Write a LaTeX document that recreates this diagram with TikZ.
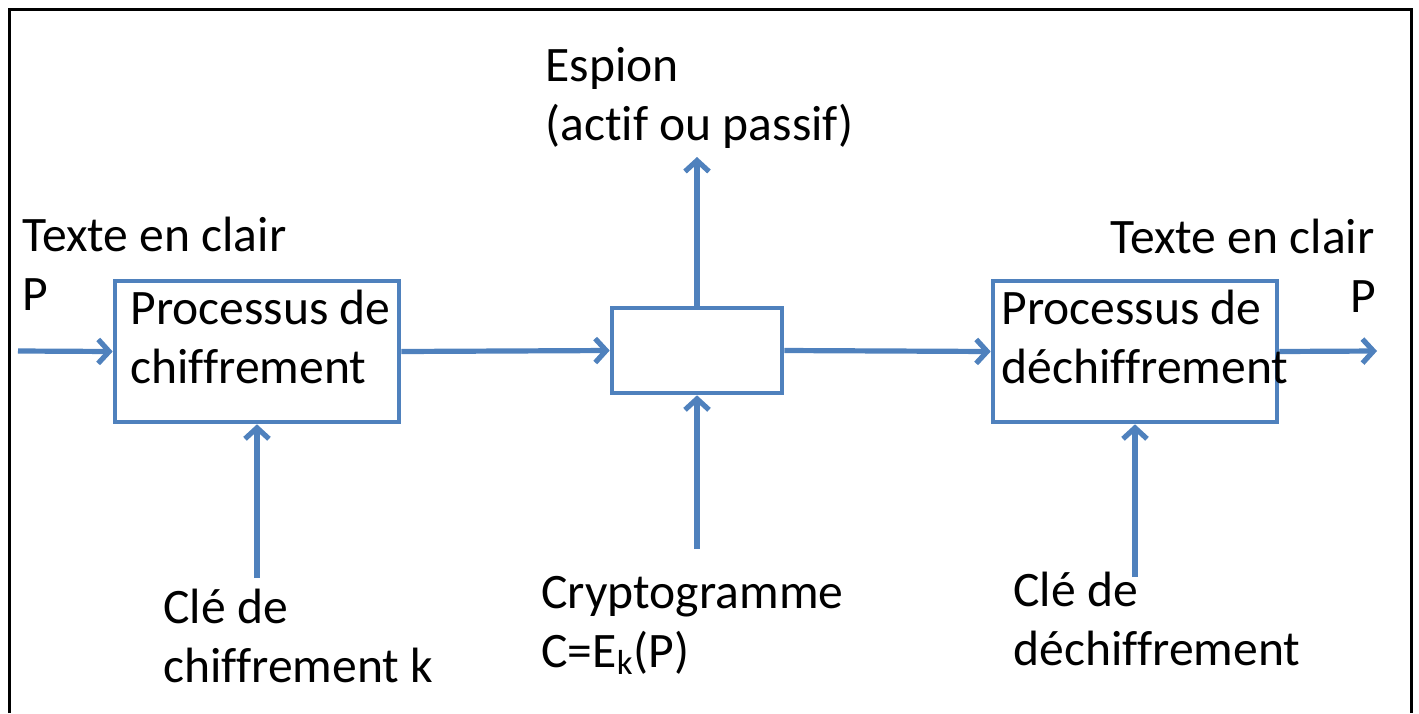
\documentclass[tikz,border=0pt]{standalone}
\usepackage{fontspec}
\setmainfont{Carlito}[Ligatures=CommonOff]
\usetikzlibrary{arrows.meta}
\definecolor{ofblue}{HTML}{4F81BD}
\begin{document}
\begin{tikzpicture}[x=0.5pt,y=-0.5pt,
  blk/.style={draw=ofblue, line width=2.3pt, inner sep=0pt},
  flow/.style={draw=ofblue, line width=2.6pt, -{Straight Barb[length=5.5pt,width=12pt]}},
  lbl/.style={inner sep=0pt, anchor=base west, align=left, font=\fontsize{24.8}{29.5}\selectfont},
]
\useasboundingbox (0,0) rectangle (1419,713);
\draw[black, line width=1.5pt] (9,713) -- (9,9) -- (1411,9) -- (1411,713);

\node[blk, minimum width=142pt, minimum height=70.5pt] (enc) at (257,351.5) {};
\node[blk, minimum width=85pt, minimum height=42.5pt] (mid) at (697,350.5) {};
\node[blk, minimum width=142pt, minimum height=70.5pt] (dec) at (1135,351.5) {};

\coordinate (in) at (18,351);
\coordinate (out) at (1377,351);
\coordinate (spy) at (697,157);
\coordinate (ctop) at (697,549);
\coordinate (ktop) at (257,578);
\coordinate (dtop) at (1135,577);

\draw[flow] (in) -- (enc.west);
\draw[flow] (enc.east) -- (mid.west);
\draw[flow] (mid.east) -- (dec.west);
\draw[flow] (dec.east) -- (out);
\draw[flow] (mid.north) -- (spy);
\draw[flow] (ctop) -- (mid.south);
\draw[flow] (ktop) -- (enc.south);
\draw[flow] (dtop) -- (dec.south);

\node[lbl] (tspy) at (545,140) {Espion\\(actif ou passif)};
\node[lbl] (tinl) at (22,310) {Texte en clair\\P};
\node[lbl] (tinr) at (1110,253) {Texte en clair};
\node[lbl] (tpr) at (1350,312) {P};
\node[lbl] (tenc) at (130,383) {Processus de\\chiffrement};
\node[lbl] (tdec) at (1001,383) {Processus de\\déchiffrement};
\node[lbl] (tk) at (163,682) {Clé de\\chiffrement k};
\node[lbl] (tc) at (541,667) {Cryptogramme\\C=E\textsubscript{k}(P)};
\node[lbl] (tdk) at (1013,665) {Clé de\\déchiffrement};
\end{tikzpicture}
\end{document}
